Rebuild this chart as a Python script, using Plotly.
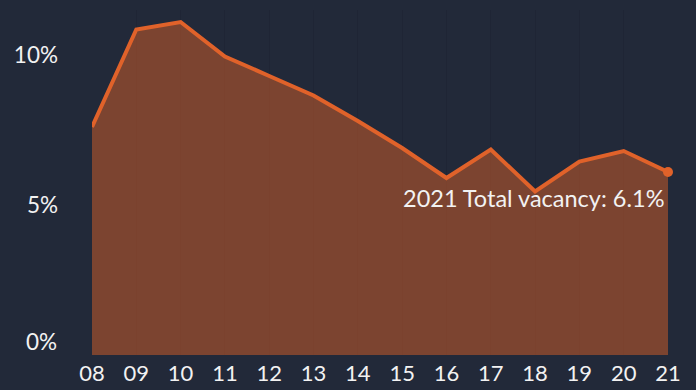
import plotly.graph_objects as go

years = [2008, 2009, 2010, 2011, 2012, 2013, 2014, 2015, 2016, 2017, 2018, 2019, 2020, 2021]
year_labels = ["08", "09", "10", "11", "12", "13", "14", "15", "16", "17", "18", "19", "20", "21"]
vacancy = [7.6, 10.85, 11.1, 9.95, 9.3, 8.65, 7.8, 6.9, 5.9, 6.85, 5.45, 6.45, 6.8, 6.1]
y_ticks = [0, 5, 10]
y_tick_labels = ["0%", "5%", "10%"]

BG = "#222939"
LINE = "#e0622a"
TXT = "#f2f2f2"
FONT = "Lato, Open Sans, sans-serif"

fig = go.Figure()
fig.add_trace(go.Scatter(
    x=years, y=vacancy, mode="lines", fill="tozeroy",
    fillcolor="rgba(224,98,40,0.48)",
    line=dict(color=LINE, width=4), hoverinfo="skip", showlegend=False,
    cliponaxis=False,
))
fig.add_trace(go.Scatter(
    x=[years[-1]], y=[vacancy[-1]], mode="markers",
    marker=dict(color=LINE, size=10), showlegend=False, hoverinfo="skip",
    cliponaxis=False,
))
fig.add_annotation(
    x=years[-1], y=vacancy[-1], xref="x", yref="y",
    text=f"20{year_labels[-1]} Total vacancy: {vacancy[-1]:.1f}%",
    showarrow=False, xanchor="right", yanchor="top", xshift=-2, yshift=-10,
    font=dict(family=FONT, size=23.5, color=TXT),
)
# the lowest y label sits raised above the baseline in the reference
fig.add_annotation(
    x=0, y=y_ticks[0], xref="paper", yref="y", text=y_tick_labels[0],
    showarrow=False, xanchor="right", yanchor="middle", xshift=-33, yshift=14,
    font=dict(family=FONT, size=22.5, color=TXT),
)

fig.update_layout(
    width=696, height=390,
    margin=dict(l=92, r=28, t=10, b=35),
    paper_bgcolor=BG, plot_bgcolor=BG,
    font=dict(family=FONT, size=20, color=TXT),
)
fig.update_xaxes(
    range=[years[0], years[-1]], tickvals=years, ticktext=year_labels,
    showgrid=True, gridcolor="#1f2535", gridwidth=1, automargin=False,
    zeroline=False, showline=False, ticks="", ticklabelstandoff=3,
    tickfont=dict(size=22),
)
fig.update_yaxes(
    range=[0, 11.5], tickvals=y_ticks[1:], ticktext=y_tick_labels[1:], automargin=False,
    showgrid=False, zeroline=False, showline=False, ticks="",
    ticklabelstandoff=33, tickfont=dict(size=22.5),
)

fig.write_html("out.html")
